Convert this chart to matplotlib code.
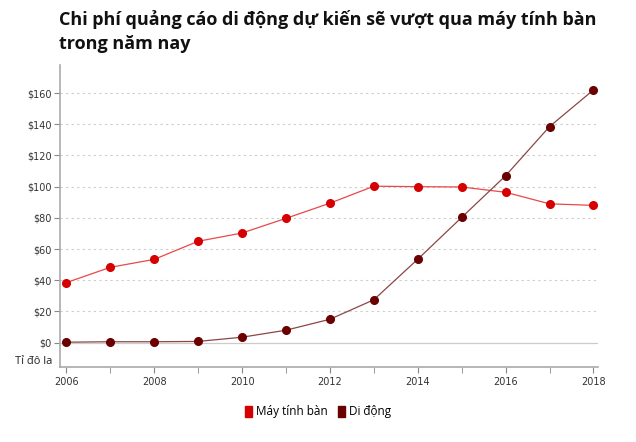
import matplotlib
matplotlib.use("Agg")
import matplotlib.pyplot as plt
from matplotlib.patches import Patch
from matplotlib.ticker import MultipleLocator

plt.rcParams['font.family'] = ['Open Sans', 'DejaVu Sans']

# dữ liệu
years = [2006, 2007, 2008, 2009, 2010, 2011, 2012, 2013, 2014, 2015, 2016, 2017, 2018]
desktop = [38.5, 48.3, 53.4, 65, 70.3, 79.7, 89.4, 100.3, 100, 99.8, 96.4, 89, 88]
mobile = [0.3, 0.6, 0.6, 0.8, 3.5, 8, 15, 27.5, 53.5, 80.3, 107, 138.5, 162]
yticks = [0, 20, 40, 60, 80, 100, 120, 140, 160]

title = "Chi phí quảng cáo di động dự kiến sẽ vượt qua máy tính bàn\ntrong năm nay"
names = ["Máy tính bàn", "Di động"]

fig = plt.figure(figsize=(6.36, 4.42), dpi=100)
ax = fig.add_axes([0.094, 0.170, 0.846, 0.683])

ax.plot(years, desktop, color="#e84848", lw=0.9, marker="o", ms=5.5,
        mfc="#d60000", mec="#d60000", zorder=3)
ax.plot(years, mobile, color="#8c4646", lw=0.9, marker="o", ms=5.5,
        mfc="#6b0000", mec="#6b0000", zorder=3)

ax.set_xlim(2005.85, 2018.1)
ax.set_ylim(-15.5, 178)
ax.set_yticks(yticks)
ax.set_yticklabels(["$%d" % v for v in yticks])
ax.xaxis.set_major_locator(MultipleLocator(2))
ax.xaxis.set_minor_locator(MultipleLocator(1))

for v in yticks[1:]:
    ax.axhline(v, color="#cccccc", lw=0.8, ls=(0, (2, 3)), zorder=1)
ax.axhline(0, color="#cccccc", lw=0.9, zorder=1)

for s in ["top", "right"]:
    ax.spines[s].set_visible(False)
for s in ["left", "bottom"]:
    ax.spines[s].set_color("#aaaaaa")
    ax.spines[s].set_linewidth(1.2)

for lab in ax.get_xticklabels() + ax.get_yticklabels():
    lab.set_family("DejaVu Sans")
ax.tick_params(axis="y", length=4, color="#888888", labelsize=7, labelcolor="#333333", pad=2)
ax.tick_params(axis="x", which="both", length=4, color="#888888", labelsize=7, labelcolor="#333333", pad=3)

fig.text(0.024, 0.181, "Tỉ đô la", fontsize=8, color="#222222", ha="left", va="center")

fig.text(0.093, 0.978, title, fontsize=13, fontweight="bold", color="#111111",
         ha="left", va="top", linespacing=1.45)

handles = [Patch(color="#d60000"), Patch(color="#6b0000")]
fig.legend(handles, names, loc="center", bbox_to_anchor=(0.5, 0.068), ncol=2,
           frameon=False, fontsize=8.5, handlelength=0.6, handleheight=1.0,
           handletextpad=0.4, columnspacing=0.8)

fig.savefig("out.png", dpi=100)
